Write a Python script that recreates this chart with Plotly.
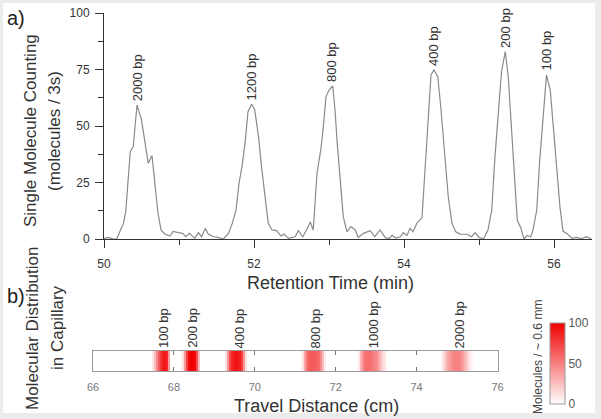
import numpy as np
import plotly.graph_objects as go

# --- panel a: single molecule counting trace ---
time_min = [50.00, 50.06, 50.12, 50.17, 50.22, 50.26, 50.29, 50.35, 50.39, 50.44,
            50.50, 50.55, 50.59, 50.64, 50.68, 50.72, 50.76, 50.81, 50.88, 50.92,
            50.99, 51.05, 51.09, 51.14, 51.21, 51.26, 51.30, 51.35, 51.39, 51.46,
            51.52, 51.59, 51.66, 51.71, 51.76, 51.80, 51.84, 51.88, 51.92, 51.97,
            52.01, 52.06, 52.10, 52.15, 52.19, 52.24, 52.30, 52.36, 52.40, 52.46,
            52.52, 52.55, 52.59, 52.65, 52.70, 52.75, 52.79, 52.84, 52.89, 52.92,
            52.96, 53.00, 53.05, 53.08, 53.11, 53.15, 53.19, 53.24, 53.29, 53.35,
            53.39, 53.46, 53.55, 53.61, 53.68, 53.75, 53.80, 53.84, 53.89, 53.95,
            53.99, 54.04, 54.08, 54.12, 54.17, 54.24, 54.28, 54.32, 54.36, 54.40,
            54.45, 54.49, 54.54, 54.59, 54.64, 54.69, 54.75, 54.84, 54.90, 54.95,
            55.00, 55.06, 55.12, 55.17, 55.21, 55.26, 55.30, 55.35, 55.39, 55.44,
            55.48, 55.51, 55.56, 55.60, 55.64, 55.69, 55.72, 55.77, 55.81, 55.86,
            55.90, 55.95, 55.99, 56.04, 56.08, 56.12, 56.18, 56.24, 56.30, 56.37,
            56.43, 56.50]
counts = [0.3, 0.7, 0.0, 0.1, 4.0, 6.9, 12.1, 38.6, 40.9, 59.3,
          52.7, 42.3, 33.5, 36.9, 24.6, 11.4, 4.0, 2.2, 1.3, 3.4,
          2.8, 2.5, 1.0, 2.5, 0.3, 2.8, 1.0, 4.7, 2.2, 1.0,
          0.7, 0.0, 2.5, 6.9, 12.8, 24.6, 32.0, 42.3, 56.3, 59.6,
          57.1, 45.3, 32.0, 17.3, 6.9, 4.0, 3.7, 1.3, 2.2, 0.3,
          1.0, 1.0, 3.7, 1.0, 4.0, 7.5, 4.0, 29.0, 39.4, 48.2,
          63.0, 65.9, 67.7, 57.1, 42.3, 24.6, 9.9, 3.2, 5.5, 4.0,
          0.7, 2.5, 3.7, 1.0, 4.0, 0.6, 0.1, 1.6, 0.4, 1.0,
          2.8, 1.6, 4.7, 3.2, 6.9, 9.5, 30.0, 55.6, 72.6, 74.8,
          71.8, 58.6, 39.4, 18.7, 6.9, 3.2, 2.2, 2.1, 1.0, 2.8,
          0.7, 0.0, 4.0, 12.8, 35.0, 57.1, 74.0, 82.9, 71.8, 45.3,
          24.6, 8.4, 4.7, 0.0, 1.6, 1.0, 4.0, 12.8, 35.0, 57.1,
          72.6, 65.9, 49.7, 33.0, 14.0, 3.5, 2.2, 0.3, 0.7, 0.1,
          1.0, 0.1]

peak_labels = ["2000 bp", "1200 bp", "800 bp", "400 bp", "200 bp", "100 bp"]
peak_times = [50.45, 51.97, 53.04, 54.40, 55.35, 55.90]
peak_heights = [59.3, 59.6, 67.7, 74.8, 82.9, 72.6]

# --- panel b: molecular distribution in capillary ---
band_labels = ["100 bp", "200 bp", "400 bp", "800 bp", "1000 bp", "2000 bp"]
band_label_pos = [67.73, 68.44, 69.62, 71.50, 72.94, 75.07]
band_start = [67.50, 68.23, 69.30, 71.18, 72.57, 74.63]
band_profiles = [
    [10, 25, 45, 65, 78, 88, 92, 85, 40],
    [12, 40, 75, 95, 100, 100, 95, 70, 25],
    [12, 40, 70, 85, 90, 92, 90, 88, 75, 40, 12],
    [12, 35, 55, 62, 65, 65, 63, 62, 58, 45, 25, 8],
    [10, 30, 45, 55, 57, 56, 55, 52, 48, 40, 30, 20, 12, 5],
    [6, 15, 25, 35, 40, 45, 48, 50, 48, 45, 38, 30, 20, 12, 6, 3],
]

# 0.05 cm bins over the 66-76 cm window
dist_centers = np.round(np.arange(66.025, 76.0, 0.05), 3)
molecules = np.zeros(len(dist_centers))
for start, prof in zip(band_start, band_profiles):
    i0 = int(np.argmin(np.abs(dist_centers - start)))
    molecules[i0:i0 + len(prof)] = prof

W, H = 601, 419
FONT = "Liberation Sans, Arial, sans-serif"


def px(x):
    return x / W


def py(y):
    return 1 - y / H


fig = go.Figure()

fig.add_trace(go.Scatter(
    x=time_min, y=counts, mode="lines",
    line=dict(color="#8a8a8a", width=1.2),
    xaxis="x", yaxis="y", showlegend=False,
))

fig.add_trace(go.Heatmap(
    x=dist_centers, y=[0], z=[molecules.tolist()],
    zmin=0, zmax=100,
    colorscale=[[0, "#ffffff"], [1, "#f00000"]],
    xaxis="x2", yaxis="y2",
    colorbar=dict(
        x=px(550), xanchor="left", y=py(404), yanchor="bottom",
        len=81 / H, lenmode="fraction", thickness=15,
        xpad=0, ypad=0, outlinewidth=1, outlinecolor="#9a9a9a",
        tickvals=[0, 50, 100], ticks="",
        tickfont=dict(size=12, color="#555555", family=FONT),
    ),
))

annotations = []
for lab, t, h in zip(peak_labels, peak_times, peak_heights):
    annotations.append(dict(
        x=t, y=h, xref="x", yref="y", text=lab, textangle=-90,
        showarrow=False, xanchor="center", yanchor="bottom", yshift=2,
        font=dict(size=13, color="#333333", family=FONT),
    ))
for lab, d in zip(band_labels, band_label_pos):
    annotations.append(dict(
        x=d, y=py(350), xref="x2", yref="paper", text=lab, textangle=-90,
        showarrow=False, xanchor="center", yanchor="bottom",
        font=dict(size=13, color="#333333", family=FONT),
    ))

texts = [
    ("a)", 16, 18, 0, 20, "#222222"),
    ("b)", 16, 296, 0, 20, "#222222"),
    ("Single Molecule Counting", 31, 131, -90, 17, "#333333"),
    ("(molecules / 3s)", 55, 131, -90, 17, "#333333"),
    ("Retention Time (min)", 330, 283, 0, 18, "#333333"),
    ("Molecular Distribution", 32, 329, -90, 17, "#333333"),
    ("in Capillary", 57, 328, -90, 17, "#333333"),
    ("Travel Distance (cm)", 316, 406, 0, 18, "#333333"),
    ("Molecules / ~ 0.6 mm", 538, 357, -90, 12, "#444444"),
]
for txt, x, y, ang, size, col in texts:
    annotations.append(dict(
        x=px(x), y=py(y), xref="paper", yref="paper", text=txt,
        textangle=ang, showarrow=False, xanchor="center", yanchor="middle",
        font=dict(size=size, color=col, family=FONT),
    ))

fig.update_layout(
    width=W, height=H,
    margin=dict(l=0, r=0, t=0, b=0, autoexpand=False),
    paper_bgcolor="#ececec",
    plot_bgcolor="#ffffff",
    font=dict(family=FONT, color="#333333"),
    shapes=[dict(type="rect", xref="paper", yref="paper",
                 x0=px(3), x1=px(595), y0=py(413), y1=py(3),
                 fillcolor="#ffffff", line=dict(width=0), layer="below")],
    annotations=annotations,
    xaxis=dict(
        domain=[px(104), px(591.5)], anchor="y", range=[50, 56.5],
        tick0=50, dtick=2, ticks="outside", ticklen=8, tickcolor="#333333",
        minor=dict(dtick=1, ticks="outside", ticklen=5, tickcolor="#333333"),
        showline=True, linecolor="#333333", linewidth=1,
        showgrid=False, zeroline=False,
        tickfont=dict(size=12, color="#333333"), ticklabelstandoff=6,
    ),
    yaxis=dict(
        domain=[py(239), py(13)], anchor="x", range=[0, 100],
        tick0=0, dtick=25, ticks="outside", ticklen=8, tickcolor="#333333",
        minor=dict(dtick=12.5, ticks="outside", ticklen=5, tickcolor="#333333"),
        showline=True, linecolor="#333333", linewidth=1,
        showgrid=False, zeroline=False,
        tickfont=dict(size=12, color="#333333"), ticklabelstandoff=3,
    ),
    xaxis2=dict(
        domain=[px(93), px(497.5)], anchor="y2", range=[66, 76],
        tick0=66, dtick=2, ticks="inside", ticklen=4, tickcolor="#777777",
        showline=True, linecolor="#9a9a9a", linewidth=1, mirror="ticks",
        showgrid=False, zeroline=False,
        tickfont=dict(size=11, color="#777777"), ticklabelstandoff=6,
    ),
    yaxis2=dict(
        domain=[py(371), py(351)], anchor="x2",
        showticklabels=False, ticks="", showline=True, mirror=True,
        linecolor="#9a9a9a", linewidth=1, showgrid=False, zeroline=False,
    ),
)

# drop the default page margin so the figure sits at the window origin
fig.write_html("out.html", config={"displayModeBar": False},
               post_script="document.body.style.margin='0';")
